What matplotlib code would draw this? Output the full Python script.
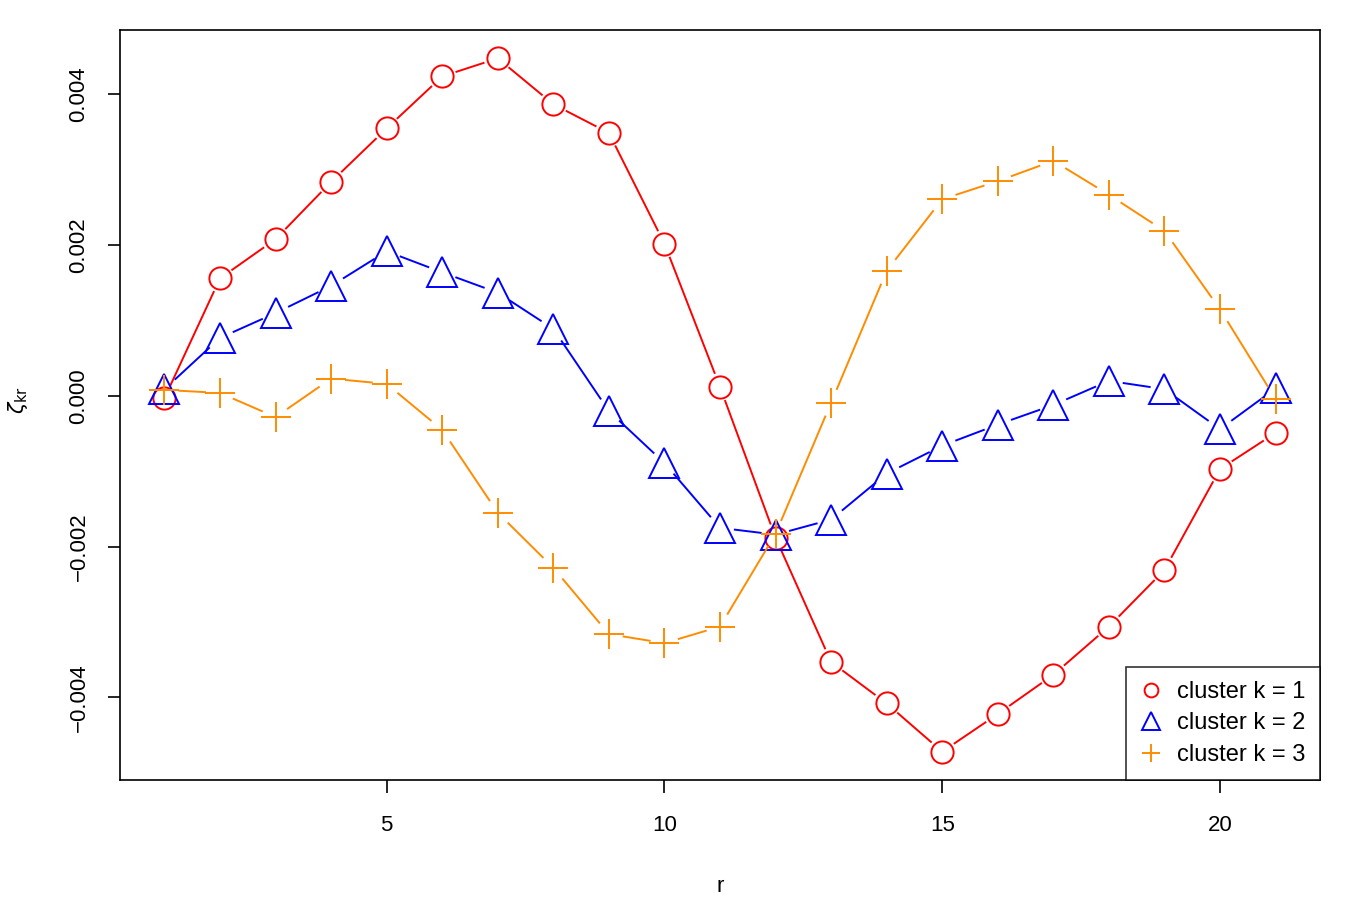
import matplotlib
matplotlib.use("Agg")
import matplotlib.pyplot as plt
from matplotlib.lines import Line2D
import numpy as np

plt.rcParams['font.family'] = ['Liberation Sans', 'DejaVu Sans']
plt.rcParams['mathtext.fontset'] = 'dejavusans'

r = list(range(1, 22))
k1 = [-0.00003, 0.00156, 0.00208, 0.00284, 0.00355, 0.00424, 0.00448, 0.00387, 0.00349, 0.00202,
      0.00012, -0.00188, -0.00353, -0.00408, -0.00472, -0.00422, -0.00370, -0.00306, -0.00231, -0.00097, -0.00049]
k2 = [0.00009, 0.00077, 0.00110, 0.00146, 0.00192, 0.00164, 0.00137, 0.00089, -0.00020, -0.00089,
      -0.00175, -0.00184, -0.00164, -0.00103, -0.00066, -0.00038, -0.00012, 0.00020, 0.00009, -0.00044, 0.00010]
k3 = [0.00008, 0.00004, -0.00028, 0.00023, 0.00016, -0.00045, -0.00155, -0.00228, -0.00316, -0.00328,
      -0.00306, -0.00183, -0.00009, 0.00166, 0.00261, 0.00285, 0.00312, 0.00267, 0.00219, 0.00115, -0.00004]
labels = ["cluster k = 1", "cluster k = 2", "cluster k = 3"]
yticks = [-0.004, -0.002, 0.0, 0.002, 0.004]
ytick_labels = ["\u22120.004", "\u22120.002", "0.000", "0.002", "0.004"]
xticks = [5, 10, 15, 20]
colors = ["#FF0000", "#0000FF", "#FF8C00"]
markers = ["o", "^", "+"]
msizes = [16, 22, 22]

W, H = 1350, 900
fig = plt.figure(figsize=(W / 100, H / 100), dpi=100)
ax = fig.add_axes([120 / W, 1 - 780 / H, 1200 / W, 750 / H])
ax.set_xlim(0.2, 21.8)
ax.set_ylim(-0.0050957, 0.0048557)

fig.canvas.draw()
trans = ax.transData
inv = trans.inverted()
gap = 14.0

for ys, col, mk, ms in zip([k1, k2, k3], colors, markers, msizes):
    pts = trans.transform(np.column_stack([r, ys]))
    for i in range(len(pts) - 1):
        p0, p1 = pts[i], pts[i + 1]
        d = p1 - p0
        L = np.hypot(*d)
        if L <= 2 * gap:
            continue
        u = d / L
        a = inv.transform(p0 + u * gap)
        b = inv.transform(p1 - u * gap)
        ax.plot([a[0], b[0]], [a[1], b[1]], color=col, lw=1.4, solid_capstyle='butt')
    ax.plot(r, ys, linestyle='none', marker=mk, markersize=ms, markerfacecolor='none',
            markeredgecolor=col, markeredgewidth=1.4)

ax.set_xticks(xticks)
ax.set_yticks(yticks)
ax.set_yticklabels(ytick_labels, rotation=90, va='center')
ax.tick_params(axis='both', direction='out', length=9, width=1.2, labelsize=16)
ax.tick_params(axis='x', pad=16)
ax.tick_params(axis='y', pad=13)
for s in ax.spines.values():
    s.set_linewidth(1.2)

fig.text(720 / W, 1 - 886 / H, "r", ha='center', va='center', fontsize=16)
fig.text(18 / W, 1 - 400 / H, r"$\zeta_{\mathrm{kr}}$", ha='center', va='center', rotation=90, fontsize=15)

handles = [Line2D([], [], linestyle='none', marker=m, color=c, markerfacecolor='none',
                  markersize=s * 0.62, markeredgewidth=1.4) for m, c, s in zip(markers, colors, msizes)]
leg = ax.legend(handles, labels, loc='lower right', bbox_to_anchor=(1.0, 0.0), fontsize=17,
                frameon=True, fancybox=False, edgecolor='black', borderaxespad=0,
                handlelength=1.0, handletextpad=0.6, labelspacing=0.4, borderpad=0.6)
leg.get_frame().set_linewidth(1.2)

fig.savefig("out.png", dpi=100)
